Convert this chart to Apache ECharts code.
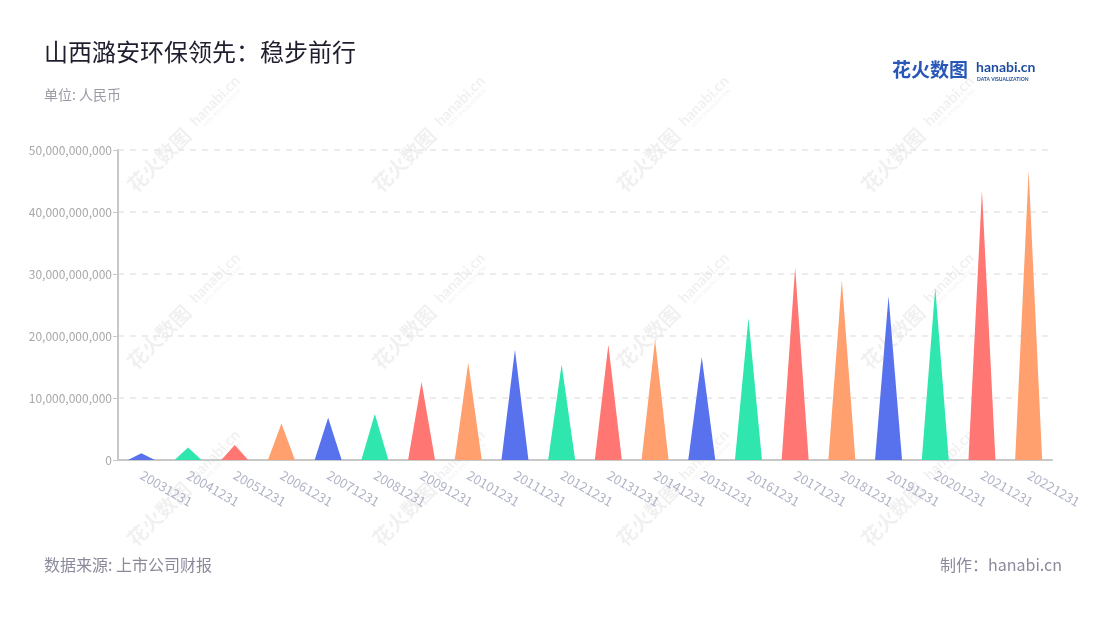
<!DOCTYPE html>
<html>
<head>
<meta charset="utf-8">
<script src="https://cdn.jsdelivr.net/npm/echarts@6/dist/echarts.min.js"></script>
<style>html,body{margin:0;padding:0;background:#fff}#c{width:1100px;height:620px}</style>
</head>
<body>
<div id="c"></div>
<script>
const categories = ['20031231','20041231','20051231','20061231','20071231','20081231','20091231','20101231','20111231','20121231','20131231','20141231','20151231','20161231','20171231','20181231','20191231','20201231','20211231','20221231'];
const values = [1.1e9, 2.0e9, 2.4e9, 5.9e9, 6.8e9, 7.4e9, 12.6e9, 15.7e9, 17.8e9, 15.4e9, 18.6e9, 19.4e9, 16.6e9, 22.9e9, 31.0e9, 29.0e9, 26.4e9, 27.8e9, 43.5e9, 46.7e9];
const palette = ['#5872EE', '#2EE6AE', '#FF7672', '#FFA06E'];
const yTicks = [0, 10e9, 20e9, 30e9, 40e9, 50e9];

const FONT = '"Noto Sans CJK SC","Noto Sans",sans-serif';
const chart = echarts.init(document.getElementById('c'));

const wmCenters = [];
[183, 428, 672, 917].forEach(x => [133, 310, 487].forEach(y => wmCenters.push([x, y])));
const watermarks = [];
wmCenters.forEach(([x, y]) => {
  watermarks.push({
    type: 'text', x: x - 24, y: y + 27, rotation: Math.PI / 4, z: 0, silent: true,
    style: { text: '花火数图', fill: 'rgba(0,0,0,0.06)', font: 'bold 20px ' + FONT, align: 'center', verticalAlign: 'middle' }
  });
  watermarks.push({
    type: 'text', x: x + 32, y: y - 32, rotation: Math.PI / 4, z: 0, silent: true,
    style: { text: 'hanabi.cn', fill: 'rgba(0,0,0,0.06)', font: 'bold 15px Lato,sans-serif', align: 'center', verticalAlign: 'middle' }
  });
  watermarks.push({
    type: 'text', x: x + 39, y: y - 25, rotation: Math.PI / 4, z: 0, silent: true,
    style: { text: 'DATA VISUALIZATION', fill: 'rgba(0,0,0,0.05)', font: 'bold 5px Lato,sans-serif', align: 'center', verticalAlign: 'middle' }
  });
});

chart.setOption({
  backgroundColor: '#fff',
  animation: false,
  grid: { left: 118, right: 48, top: 150, bottom: 160 },
  xAxis: {
    type: 'category',
    data: categories,
    axisLine: { lineStyle: { color: '#c8c8c8', width: 2 } },
    axisTick: { alignWithLabel: true, length: 5, lineStyle: { color: '#c8c8c8' } },
    axisLabel: { rotate: -30, color: '#b0b3c6', fontSize: 13, fontFamily: FONT, margin: 14, interval: 0 }
  },
  yAxis: {
    type: 'value',
    min: yTicks[0], max: yTicks[yTicks.length - 1], interval: yTicks[1] - yTicks[0],
    axisLine: { show: true, lineStyle: { color: '#c8c8c8', width: 2 } },
    axisTick: { show: true, length: 5, lineStyle: { color: '#c8c8c8' } },
    axisLabel: { color: '#a8a8a8', fontSize: 12, fontFamily: FONT, margin: 6,
      formatter: v => v.toLocaleString('en-US') },
    splitLine: { lineStyle: { color: '#e6e6e6', type: [6, 6], width: 1.5 } }
  },
  series: [{
    type: 'pictorialBar',
    symbol: 'triangle',
    symbolSize: [27, '100%'],
    data: values.map((v, i) => ({ value: v, itemStyle: { color: palette[i % palette.length] } })),
    z: 10
  }],
  graphic: [
    ...watermarks,
    { type: 'text', left: 44, top: 40, style: { text: '山西潞安环保领先：稳步前行', fill: '#1e1e2e', font: '24px ' + FONT } },
    { type: 'text', left: 44, top: 88, style: { text: '单位: 人民币', fill: '#9a9aa6', font: '14px ' + FONT } },
    { type: 'text', left: 44, top: 557, style: { text: '数据来源: 上市公司财报', fill: '#8a8a9c', font: '16px ' + FONT } },
    { type: 'text', right: 38, top: 557, style: { text: '制作：hanabi.cn', fill: '#8a8a9c', font: '16px ' + FONT } },
    { type: 'text', left: 892, top: 60, style: { text: '花火数图', fill: '#2857b8', font: 'bold 19px ' + FONT } },
    { type: 'text', left: 976, top: 60, style: { text: 'hanabi.cn', fill: '#1f4c9e', font: 'bold 14px Lato,sans-serif' } },
    { type: 'text', left: 977, top: 77, style: { text: 'DATA VISUALIZATION', fill: '#1f4c9e', font: 'bold 5px Lato,sans-serif' } }
  ]
});
</script>
</body>
</html>
